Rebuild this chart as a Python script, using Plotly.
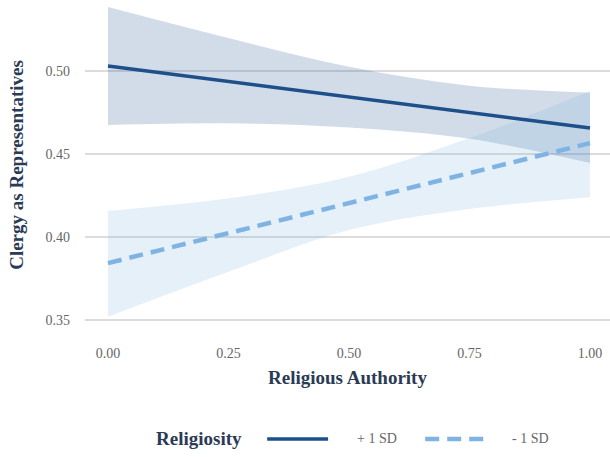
import plotly.graph_objects as go

# Predicted values of clergy-as-representatives across religious authority
x_vals = [0.00, 0.25, 0.50, 0.75, 1.00]

high_fit = [0.5030, 0.4937, 0.4844, 0.4750, 0.4657]
high_upper = [0.5386, 0.5199, 0.5026, 0.4912, 0.4870]
high_lower = [0.4675, 0.4685, 0.4660, 0.4592, 0.4446]

low_fit = [0.3843, 0.4024, 0.4205, 0.4385, 0.4566]
low_upper = [0.4157, 0.4233, 0.4363, 0.4596, 0.4880]
low_lower = [0.3520, 0.3791, 0.4042, 0.4169, 0.4240]

x_ticks = [0.00, 0.25, 0.50, 0.75, 1.00]
x_ticklabels = ["0.00", "0.25", "0.50", "0.75", "1.00"]
y_ticks = [0.35, 0.40, 0.45, 0.50]
y_ticklabels = ["0.35", "0.40", "0.45", "0.50"]

legend_title = "Religiosity"
series_names = ["+ 1 SD", "- 1 SD"]

DARK = "#1d4f8a"
LIGHT = "#7fb3e3"
FONT = "Liberation Serif"
TITLE_COL = "#2b3a55"
TICK_COL = "#666666"
DASH = "14px,8px"

fig = go.Figure()


def add_band(lower, upper, fill):
    fig.add_trace(go.Scatter(x=x_vals, y=upper, mode="lines",
                             line=dict(width=0, shape="spline"),
                             showlegend=False, hoverinfo="skip"))
    fig.add_trace(go.Scatter(x=x_vals, y=lower, mode="lines",
                             line=dict(width=0, shape="spline"),
                             fill="tonexty", fillcolor=fill,
                             showlegend=False, hoverinfo="skip"))


add_band(high_lower, high_upper, "rgba(29,79,138,0.2)")
add_band(low_lower, low_upper, "rgba(127,179,227,0.2)")

fig.add_trace(go.Scatter(x=x_vals, y=high_fit, mode="lines", name=series_names[0],
                         line=dict(color=DARK, width=3.5), showlegend=False))
fig.add_trace(go.Scatter(x=x_vals, y=low_fit, mode="lines", name=series_names[1],
                         line=dict(color=LIGHT, width=4.5, dash=DASH), showlegend=False))

# Legend row below the x-axis title: key title, then line samples with labels
LEG_Y = -0.330
fig.add_annotation(x=0.302, y=LEG_Y, xref="paper", yref="paper",
                   text=f"<b>{legend_title}</b>", showarrow=False,
                   xanchor="right", yanchor="middle",
                   font=dict(size=19, color=TITLE_COL))
samples = [
    (series_names[0], DARK, 3.5, "solid", 0.347, 0.463, 0.514),
    (series_names[1], LIGHT, 4.5, DASH, 0.648, 0.762, 0.809),
]
for name, col, w, dash, x0, x1, xt in samples:
    fig.add_shape(type="line", xref="paper", yref="paper",
                  x0=x0, x1=x1, y0=LEG_Y, y1=LEG_Y,
                  line=dict(color=col, width=w, dash=dash))
    fig.add_annotation(x=xt, y=LEG_Y, xref="paper", yref="paper",
                       text=name, showarrow=False,
                       xanchor="left", yanchor="middle",
                       font=dict(size=14, color=TICK_COL))

fig.update_layout(
    width=610, height=457,
    margin=dict(l=85, r=0, t=0, b=127),
    paper_bgcolor="white", plot_bgcolor="white",
    font=dict(family=FONT, color=TICK_COL, size=14),
    showlegend=False,
    xaxis=dict(
        range=[-0.0477, 1.0415],
        tickvals=x_ticks, ticktext=x_ticklabels,
        showgrid=False, zeroline=False, showline=False,
        ticks="", ticklabelstandoff=13,
        tickfont=dict(size=14, color=TICK_COL),
        title=dict(text="<b>Religious Authority</b>", standoff=10,
                   font=dict(size=19, color=TITLE_COL)),
    ),
    yaxis=dict(
        range=[0.344, 0.5428],
        tickvals=y_ticks, ticktext=y_ticklabels,
        showgrid=True, gridcolor="#dcdcdc", gridwidth=1.5,
        zeroline=False, showline=False,
        ticks="", ticklabelstandoff=14,
        tickfont=dict(size=14, color=TICK_COL),
        title=dict(text="<b>Clergy as Representatives</b>", standoff=16,
                   font=dict(size=19, color=TITLE_COL)),
    ),
)

fig.write_html("out.html")
